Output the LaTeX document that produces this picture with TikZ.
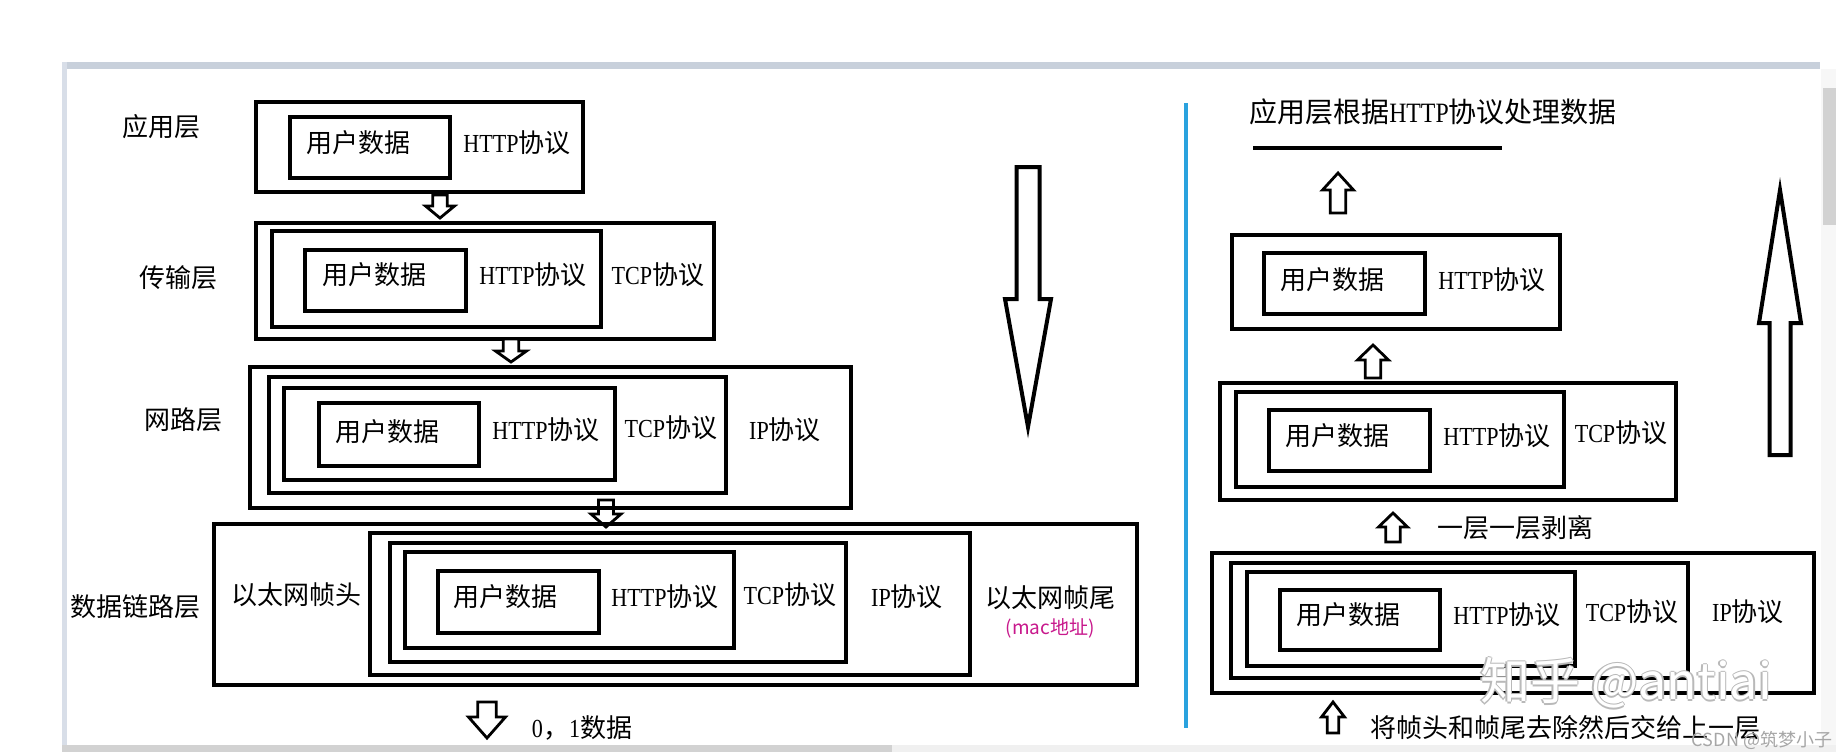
\documentclass[tikz,border=0pt]{standalone}
\usepackage{fontspec}
\setmainfont{Liberation Serif}
\newfontfamily\cjk{Noto Sans CJK SC}
\newfontfamily\lat[FakeStretch=0.85]{Liberation Serif}
\usetikzlibrary{calc}
\definecolor{bandgray}{HTML}{C8D0DB}
\definecolor{edgegray}{HTML}{D8DEE8}
\definecolor{sepblue}{HTML}{2AA2DE}
\definecolor{macpink}{HTML}{C8188C}
\tikzset{
  box/.style={draw, line width=2pt, inner sep=0pt},
  txt/.style={inner sep=0pt, font=\fontsize{13pt}{15pt}\selectfont\cjk},
  mix/.style={inner sep=0pt, font=\fontsize{13pt}{15pt}\selectfont\lat},
  barrow/.style={draw, line width=1.4pt, fill=white, line join=miter},
  bigarrow/.style={draw, line width=2pt, fill=white, line join=miter},
  wmark/.style={inner sep=0pt, font=\fontsize{25pt}{28pt}\selectfont\cjk},
}
\newcommand\bx[5]{\node[box, minimum width={(#4-#2)*0.5pt}, minimum height={(#5-#3)*0.5pt}] (#1) at ({(#2+#4)/2},{(#3+#5)/2}) {};}
% style, cx, top, bottom(tip), width, head length
\newcommand\dnarr[6]{\draw[#1] ({#2-#5/4},#3) -- ({#2+#5/4},#3) -- ({#2+#5/4},{#4-#6}) -- ({#2+#5/2},{#4-#6}) -- (#2,#4) -- ({#2-#5/2},{#4-#6}) -- ({#2-#5/4},{#4-#6}) -- cycle;}
% style, cx, top(tip), bottom, width, head length
\newcommand\uparr[6]{\draw[#1] ({#2-#5/4},#4) -- ({#2+#5/4},#4) -- ({#2+#5/4},{#3+#6}) -- ({#2+#5/2},{#3+#6}) -- (#2,#3) -- ({#2-#5/2},{#3+#6}) -- ({#2-#5/4},{#3+#6}) -- cycle;}
\begin{document}
\begin{tikzpicture}[x=0.5pt,y=-0.5pt]
\fill[white] (0,0) rectangle (1836,752);
\useasboundingbox (0,0) rectangle (1836,752);
% screenshot frame
\fill[bandgray] (62,62) rectangle (1820,69);
\fill[edgegray] (62,62) rectangle (67,745);
\fill[gray!6] (1821,69) rectangle (1836,752);
\fill[gray!35] (1823,88) rectangle (1836,225);
\fill[gray!35] (62,745) rectangle (892,752);
\fill[gray!12] (892,745) rectangle (1836,752);

% ---------------- left: encapsulation ----------------
\dnarr{barrow}{606}{500}{527}{30}{13}
\node[txt] (lapp) at (161,127) {应用层};
\bx{appo}{256}{102}{583}{192}
\bx{appi}{290}{117}{450}{178}
\node[txt] (appd) at (358,143) {用户数据};
\node[mix] (apph) at (517,143) {HTTP{\cjk 协议}};
\dnarr{barrow}{440}{195}{218}{29}{12}

\node[txt] (ltr) at (178,278) {传输层};
\bx{tro}{256}{223}{714}{339}
\bx{trm}{272}{231}{601}{327}
\bx{tri}{305}{250}{466}{311}
\node[txt] (trd) at (374,275) {用户数据};
\node[mix] (trh) at (533,275) {HTTP{\cjk 协议}};
\node[mix] (trt) at (658,275) {TCP{\cjk 协议}};
\dnarr{barrow}{511}{339}{362}{31}{11}

\node[txt] (lnw) at (183,420) {网路层};
\bx{nwo}{250}{367}{851}{508}
\bx{nwt}{269}{377}{726}{493}
\bx{nwh}{284}{388}{615}{480}
\bx{nwi}{319}{403}{479}{466}
\node[txt] (nwd) at (387,432) {用户数据};
\node[mix] (nwhh) at (546,430) {HTTP{\cjk 协议}};
\node[mix] (nwtt) at (671,428) {TCP{\cjk 协议}};
\node[mix] (nwip) at (785,430) {IP{\cjk 协议}};

\node[txt] (ldl) at (135,607) {数据链路层};
\bx{dlo}{214}{524}{1137}{685}
\bx{dlip}{370}{533}{970}{675}
\bx{dlt}{390}{543}{846}{662}
\bx{dlh}{405}{552}{734}{648}
\bx{dli}{438}{571}{599}{633}
\node[txt] (dld) at (505,597) {用户数据};
\node[mix] (dlhh) at (665,597) {HTTP{\cjk 协议}};
\node[mix] (dltt) at (790,595) {TCP{\cjk 协议}};
\node[mix] (dlipt) at (907,597) {IP{\cjk 协议}};
\node[txt] (dlhead) at (296,595) {以太网帧头};
\node[txt] (dltail) at (1050,598) {以太网帧尾};
\node[inner sep=0pt, text=macpink, font=\fontsize{9.5pt}{11pt}\selectfont\cjk] (mac) at (1050,628) {(mac地址)};

\dnarr{barrow}{487}{702}{738}{37}{21}
\node[mix] (bits) at (582,728) {0{\cjk ，}1{\cjk 数据}};

% big down arrow
\dnarr{bigarrow}{1028}{167}{427}{46}{128}

% separator
\draw[sepblue, line width=1.6pt] (1186,103) -- (1186,728);

% ---------------- right: decapsulation ----------------
\node[inner sep=0pt, font=\fontsize{14pt}{16pt}\selectfont\lat] (title) at (1433,112) {{\cjk 应用层根据}HTTP{\cjk 协议处理数据}};
\coordinate (ul1) at (1253,148);
\coordinate (ul2) at (1502,148);
\draw[line width=2pt] (ul1) -- (ul2);
\uparr{barrow}{1338}{173}{213}{31}{17}

\bx{rapo}{1232}{235}{1560}{329}
\bx{rapi}{1264}{253}{1425}{314}
\node[txt] (rapd) at (1332,280) {用户数据};
\node[mix] (raph) at (1492,280) {HTTP{\cjk 协议}};
\uparr{barrow}{1373}{345}{378}{31}{15}

\bx{rtro}{1220}{383}{1676}{500}
\bx{rtrm}{1236}{392}{1564}{487}
\bx{rtri}{1269}{410}{1430}{471}
\node[txt] (rtrd) at (1337,436) {用户数据};
\node[mix] (rtrh) at (1497,436) {HTTP{\cjk 协议}};
\node[mix] (rtrt) at (1621,433) {TCP{\cjk 协议}};
\uparr{barrow}{1393}{513}{542}{29}{14}
\node[txt] (peel) at (1515,528) {一层一层剥离};

\bx{rnwo}{1212}{553}{1814}{693}
\bx{rnwt}{1231}{563}{1688}{678}
\bx{rnwh}{1247}{572}{1575}{666}
\bx{rnwi}{1280}{590}{1440}{650}
\node[txt] (rnwd) at (1348,615) {用户数据};
\node[mix] (rnwhh) at (1507,615) {HTTP{\cjk 协议}};
\node[mix] (rnwtt) at (1632,612) {TCP{\cjk 协议}};
\node[mix] (rnwip) at (1748,612) {IP{\cjk 协议}};
\uparr{barrow}{1333}{702}{733}{23}{15}
\node[txt] (strip) at (1565,728) {将帧头和帧尾去除然后交给上一层};

% big up arrow
\uparr{bigarrow}{1780}{190}{455}{42}{133}

% watermarks
\foreach \dx/\dy in {-1.5/0,1.5/0,0/-1.5,0/1.5}
  \node[wmark, text=gray!55] at (1626+\dx,683+\dy) {知乎 @antiai};
\node[wmark, text=white] (wm) at (1626,683) {知乎 @antiai};
\node[inner sep=0pt, text=gray!70, font=\fontsize{9pt}{11pt}\selectfont\cjk] (csdn) at (1762,740) {CSDN @筑梦小子};
\end{tikzpicture}
\end{document}
